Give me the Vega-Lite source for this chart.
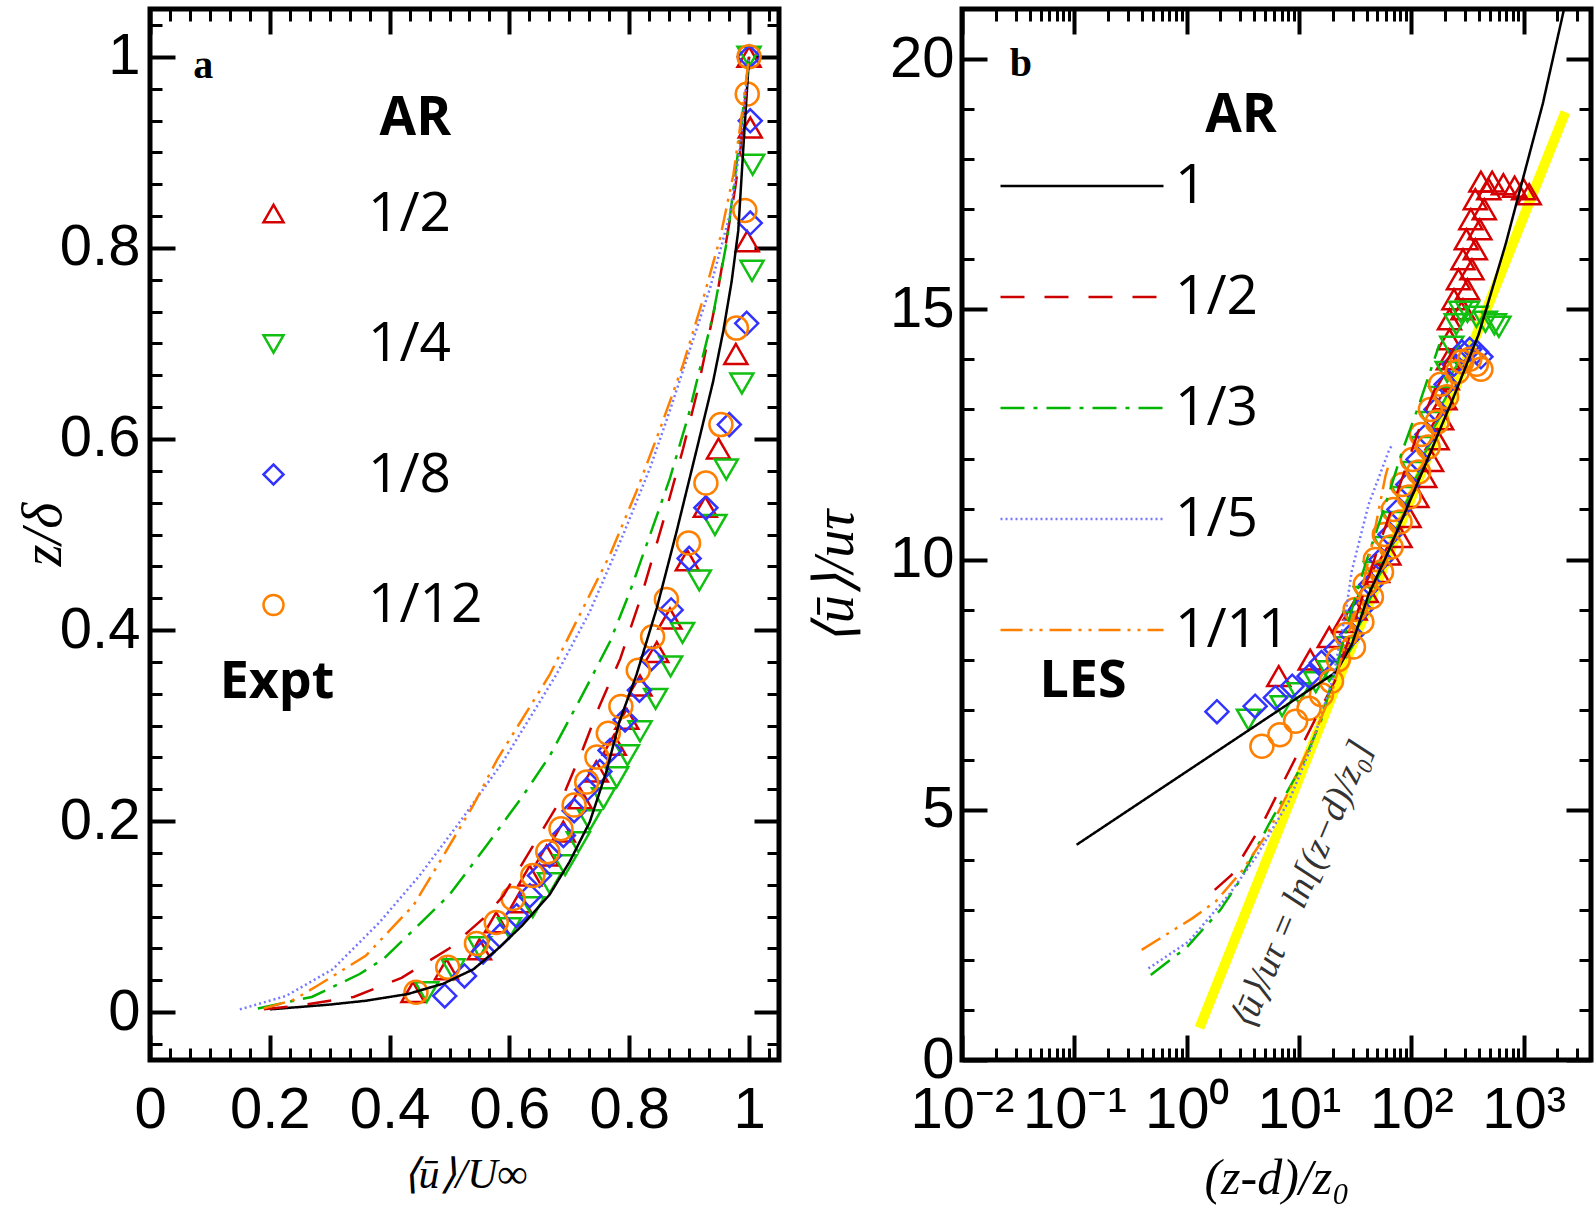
{
"$schema":"https://vega.github.io/schema/vega-lite/v6.json",
"background":"white",
"padding":{"left":12,"top":4,"right":0,"bottom":0},
"bounds":"flush",
"spacing":183,
"config":{"view":{"stroke":"black","strokeWidth":5},"axis":{"grid":false,"domain":false,"tickColor":"black","labelColor":"black","titleColor":"black","titleFontWeight":"normal","labelFlush":false,"labelOverlap":false}},
"resolve":{"scale":{"color":"independent","shape":"independent","stroke":"independent","strokeDash":"independent","x":"independent","y":"independent"},"legend":{"color":"independent","shape":"independent","stroke":"independent","strokeDash":"independent"}},
"datasets":{
"lesA":[
{"AR":"1","u":0.20,"z":0.003},{"AR":"1","u":0.30,"z":0.008},{"AR":"1","u":0.36,"z":0.012},{"AR":"1","u":0.43,"z":0.019},{"AR":"1","u":0.49,"z":0.030},{"AR":"1","u":0.54,"z":0.045},{"AR":"1","u":0.58,"z":0.066},{"AR":"1","u":0.62,"z":0.09},{"AR":"1","u":0.667,"z":0.123},{"AR":"1","u":0.70,"z":0.157},{"AR":"1","u":0.734,"z":0.199},{"AR":"1","u":0.762,"z":0.252},{"AR":"1","u":0.784,"z":0.305},{"AR":"1","u":0.812,"z":0.353},{"AR":"1","u":0.846,"z":0.423},{"AR":"1","u":0.879,"z":0.503},{"AR":"1","u":0.913,"z":0.59},{"AR":"1","u":0.94,"z":0.66},{"AR":"1","u":0.957,"z":0.713},{"AR":"1","u":0.971,"z":0.765},{"AR":"1","u":0.982,"z":0.818},{"AR":"1","u":0.99,"z":0.9},{"AR":"1","u":0.997,"z":0.97},{"AR":"1","u":1.0,"z":1.0},
{"AR":"1/2","u":0.19,"z":0.003},{"AR":"1/2","u":0.25,"z":0.007},{"AR":"1/2","u":0.34,"z":0.016},{"AR":"1/2","u":0.42,"z":0.036},{"AR":"1/2","u":0.50,"z":0.067},{"AR":"1/2","u":0.556,"z":0.098},{"AR":"1/2","u":0.59,"z":0.122},{"AR":"1/2","u":0.623,"z":0.157},{"AR":"1/2","u":0.69,"z":0.227},{"AR":"1/2","u":0.723,"z":0.276},{"AR":"1/2","u":0.75,"z":0.32},{"AR":"1/2","u":0.785,"z":0.37},{"AR":"1/2","u":0.82,"z":0.435},{"AR":"1/2","u":0.855,"z":0.51},{"AR":"1/2","u":0.89,"z":0.59},{"AR":"1/2","u":0.913,"z":0.648},{"AR":"1/2","u":0.946,"z":0.748},{"AR":"1/2","u":0.963,"z":0.811},{"AR":"1/2","u":0.977,"z":0.863},{"AR":"1/2","u":0.987,"z":0.91},{"AR":"1/2","u":1.0,"z":1.0},
{"AR":"1/3","u":0.18,"z":0.004},{"AR":"1/3","u":0.27,"z":0.016},{"AR":"1/3","u":0.35,"z":0.04},{"AR":"1/3","u":0.39,"z":0.056},{"AR":"1/3","u":0.43,"z":0.08},{"AR":"1/3","u":0.50,"z":0.123},{"AR":"1/3","u":0.565,"z":0.177},{"AR":"1/3","u":0.623,"z":0.227},{"AR":"1/3","u":0.667,"z":0.268},{"AR":"1/3","u":0.72,"z":0.33},{"AR":"1/3","u":0.768,"z":0.388},{"AR":"1/3","u":0.801,"z":0.44},{"AR":"1/3","u":0.835,"z":0.50},{"AR":"1/3","u":0.868,"z":0.559},{"AR":"1/3","u":0.899,"z":0.625},{"AR":"1/3","u":0.94,"z":0.73},{"AR":"1/3","u":0.963,"z":0.807},{"AR":"1/3","u":0.979,"z":0.887},{"AR":"1/3","u":0.993,"z":0.96},{"AR":"1/3","u":1.0,"z":1.0},
{"AR":"1/5","u":0.15,"z":0.003},{"AR":"1/5","u":0.227,"z":0.017},{"AR":"1/5","u":0.305,"z":0.045},{"AR":"1/5","u":0.383,"z":0.094},{"AR":"1/5","u":0.45,"z":0.143},{"AR":"1/5","u":0.517,"z":0.199},{"AR":"1/5","u":0.589,"z":0.262},{"AR":"1/5","u":0.678,"z":0.353},{"AR":"1/5","u":0.734,"z":0.419},{"AR":"1/5","u":0.79,"z":0.5},{"AR":"1/5","u":0.835,"z":0.57},{"AR":"1/5","u":0.868,"z":0.63},{"AR":"1/5","u":0.902,"z":0.695},{"AR":"1/5","u":0.935,"z":0.758},{"AR":"1/5","u":0.968,"z":0.835},{"AR":"1/5","u":0.985,"z":0.905},{"AR":"1/5","u":1.0,"z":1.0},
{"AR":"1/11","u":0.19,"z":0.004},{"AR":"1/11","u":0.24,"z":0.013},{"AR":"1/11","u":0.28,"z":0.028},{"AR":"1/11","u":0.36,"z":0.059},{"AR":"1/11","u":0.44,"z":0.112},{"AR":"1/11","u":0.49,"z":0.164},{"AR":"1/11","u":0.54,"z":0.217},{"AR":"1/11","u":0.58,"z":0.265},{"AR":"1/11","u":0.667,"z":0.353},{"AR":"1/11","u":0.723,"z":0.423},{"AR":"1/11","u":0.768,"z":0.479},{"AR":"1/11","u":0.812,"z":0.545},{"AR":"1/11","u":0.85,"z":0.608},{"AR":"1/11","u":0.89,"z":0.678},{"AR":"1/11","u":0.924,"z":0.748},{"AR":"1/11","u":0.952,"z":0.811},{"AR":"1/11","u":0.974,"z":0.877},{"AR":"1/11","u":0.988,"z":0.94},{"AR":"1/11","u":1.0,"z":1.0}
],
"exptA":[
{"AR":"1/2","u":0.439,"z":0.021},{"AR":"1/2","u":0.495,"z":0.045},{"AR":"1/2","u":0.550,"z":0.066},{"AR":"1/2","u":0.578,"z":0.094},{"AR":"1/2","u":0.617,"z":0.115},{"AR":"1/2","u":0.634,"z":0.143},{"AR":"1/2","u":0.662,"z":0.164},{"AR":"1/2","u":0.690,"z":0.189},{"AR":"1/2","u":0.718,"z":0.224},{"AR":"1/2","u":0.745,"z":0.252},{"AR":"1/2","u":0.775,"z":0.28},{"AR":"1/2","u":0.796,"z":0.307},{"AR":"1/2","u":0.818,"z":0.342},{"AR":"1/2","u":0.846,"z":0.377},{"AR":"1/2","u":0.868,"z":0.412},{"AR":"1/2","u":0.897,"z":0.473},{"AR":"1/2","u":0.927,"z":0.529},{"AR":"1/2","u":0.949,"z":0.590},{"AR":"1/2","u":0.978,"z":0.689},{"AR":"1/2","u":0.997,"z":0.807},{"AR":"1/2","u":1.002,"z":0.926},{"AR":"1/2","u":1.0,"z":1.0},
{"AR":"1/4","u":0.462,"z":0.021},{"AR":"1/4","u":0.506,"z":0.045},{"AR":"1/4","u":0.55,"z":0.068},{"AR":"1/4","u":0.60,"z":0.088},{"AR":"1/4","u":0.639,"z":0.110},{"AR":"1/4","u":0.667,"z":0.135},{"AR":"1/4","u":0.693,"z":0.154},{"AR":"1/4","u":0.715,"z":0.178},{"AR":"1/4","u":0.734,"z":0.201},{"AR":"1/4","u":0.757,"z":0.224},{"AR":"1/4","u":0.779,"z":0.246},{"AR":"1/4","u":0.797,"z":0.269},{"AR":"1/4","u":0.818,"z":0.294},{"AR":"1/4","u":0.844,"z":0.328},{"AR":"1/4","u":0.869,"z":0.362},{"AR":"1/4","u":0.889,"z":0.397},{"AR":"1/4","u":0.917,"z":0.452},{"AR":"1/4","u":0.943,"z":0.510},{"AR":"1/4","u":0.962,"z":0.568},{"AR":"1/4","u":0.988,"z":0.658},{"AR":"1/4","u":1.005,"z":0.776},{"AR":"1/4","u":1.006,"z":0.887},{"AR":"1/4","u":1.0,"z":1.0},
{"AR":"1/8","u":0.492,"z":0.017},{"AR":"1/8","u":0.525,"z":0.038},{"AR":"1/8","u":0.556,"z":0.063},{"AR":"1/8","u":0.584,"z":0.080},{"AR":"1/8","u":0.612,"z":0.101},{"AR":"1/8","u":0.634,"z":0.122},{"AR":"1/8","u":0.65,"z":0.143},{"AR":"1/8","u":0.667,"z":0.164},{"AR":"1/8","u":0.690,"z":0.185},{"AR":"1/8","u":0.708,"z":0.211},{"AR":"1/8","u":0.729,"z":0.233},{"AR":"1/8","u":0.751,"z":0.252},{"AR":"1/8","u":0.768,"z":0.274},{"AR":"1/8","u":0.793,"z":0.306},{"AR":"1/8","u":0.817,"z":0.337},{"AR":"1/8","u":0.837,"z":0.370},{"AR":"1/8","u":0.870,"z":0.421},{"AR":"1/8","u":0.900,"z":0.475},{"AR":"1/8","u":0.928,"z":0.528},{"AR":"1/8","u":0.967,"z":0.615},{"AR":"1/8","u":0.996,"z":0.721},{"AR":"1/8","u":1.002,"z":0.826},{"AR":"1/8","u":1.002,"z":0.933},{"AR":"1/8","u":1.0,"z":1.0},
{"AR":"1/12","u":0.444,"z":0.021},{"AR":"1/12","u":0.497,"z":0.047},{"AR":"1/12","u":0.545,"z":0.072},{"AR":"1/12","u":0.578,"z":0.094},{"AR":"1/12","u":0.606,"z":0.119},{"AR":"1/12","u":0.639,"z":0.143},{"AR":"1/12","u":0.664,"z":0.168},{"AR":"1/12","u":0.686,"z":0.192},{"AR":"1/12","u":0.708,"z":0.217},{"AR":"1/12","u":0.729,"z":0.241},{"AR":"1/12","u":0.746,"z":0.267},{"AR":"1/12","u":0.765,"z":0.292},{"AR":"1/12","u":0.786,"z":0.320},{"AR":"1/12","u":0.815,"z":0.358},{"AR":"1/12","u":0.839,"z":0.393},{"AR":"1/12","u":0.862,"z":0.432},{"AR":"1/12","u":0.899,"z":0.491},{"AR":"1/12","u":0.928,"z":0.554},{"AR":"1/12","u":0.953,"z":0.615},{"AR":"1/12","u":0.979,"z":0.716},{"AR":"1/12","u":0.993,"z":0.839},{"AR":"1/12","u":0.997,"z":0.961},{"AR":"1/12","u":1.0,"z":1.0}
],
"yellowB":[{"x":1.3,"u":0.64},{"x":2355,"u":18.94}],
"lesB":[
{"AR":"1","x":0.1047,"u":4.3},{"AR":"1","x":21.38,"u":7.75},{"AR":"1","x":29.51,"u":8.3},{"AR":"1","x":41.69,"u":9.3},{"AR":"1","x":58.88,"u":10.03},{"AR":"1","x":89.13,"u":10.97},{"AR":"1","x":133.7,"u":11.9},{"AR":"1","x":187.9,"u":12.7},{"AR":"1","x":230.7,"u":13.17},{"AR":"1","x":398.1,"u":14.5},{"AR":"1","x":691.8,"u":16.3},{"AR":"1","x":1047,"u":17.83},{"AR":"1","x":1479,"u":19.1},{"AR":"1","x":2239,"u":20.9},{"AR":"1","x":2512,"u":21.4},
{"AR":"1/2","x":1.778,"u":3.4},{"AR":"1/2","x":2.512,"u":3.7},{"AR":"1/2","x":4.677,"u":4.7},{"AR":"1/2","x":8.128,"u":5.77},{"AR":"1/2","x":14.13,"u":6.83},{"AR":"1/2","x":20.89,"u":7.57},{"AR":"1/2","x":31.62,"u":8.8},{"AR":"1/2","x":50.12,"u":10.2},{"AR":"1/2","x":79.43,"u":11.5},{"AR":"1/2","x":125.9,"u":12.8},{"AR":"1/2","x":199.5,"u":13.9},{"AR":"1/2","x":251.2,"u":14.3},
{"AR":"1/3","x":0.479,"u":1.7},{"AR":"1/3","x":1.0,"u":2.25},{"AR":"1/3","x":2.0,"u":3.0},{"AR":"1/3","x":3.0,"u":3.6},{"AR":"1/3","x":5.37,"u":4.7},{"AR":"1/3","x":10.72,"u":5.9},{"AR":"1/3","x":15.85,"u":6.8},{"AR":"1/3","x":22.59,"u":8.03},{"AR":"1/3","x":29.51,"u":9.0},{"AR":"1/3","x":38.90,"u":9.9},{"AR":"1/3","x":58.88,"u":11.1},{"AR":"1/3","x":83.18,"u":12.17},{"AR":"1/3","x":117.5,"u":13.1},{"AR":"1/3","x":154.9,"u":13.9},{"AR":"1/3","x":177.8,"u":14.3},
{"AR":"1/5","x":0.457,"u":1.83},{"AR":"1/5","x":1.047,"u":2.37},{"AR":"1/5","x":2.371,"u":3.3},{"AR":"1/5","x":4.074,"u":4.03},{"AR":"1/5","x":8.128,"u":5.17},{"AR":"1/5","x":12.59,"u":6.2},{"AR":"1/5","x":19.95,"u":7.6},{"AR":"1/5","x":26.30,"u":9.0},{"AR":"1/5","x":29.51,"u":9.77},{"AR":"1/5","x":41.69,"u":11.1},{"AR":"1/5","x":63.10,"u":12.17},{"AR":"1/5","x":67.61,"u":12.3},
{"AR":"1/11","x":0.398,"u":2.2},{"AR":"1/11","x":1.122,"u":2.83},{"AR":"1/11","x":1.820,"u":3.17},{"AR":"1/11","x":3.090,"u":3.77},{"AR":"1/11","x":5.370,"u":4.57},{"AR":"1/11","x":8.128,"u":5.37},{"AR":"1/11","x":12.59,"u":6.3},{"AR":"1/11","x":19.95,"u":7.4},{"AR":"1/11","x":28.18,"u":8.6},{"AR":"1/11","x":33.88,"u":9.1},{"AR":"1/11","x":44.67,"u":10.3},{"AR":"1/11","x":58.88,"u":11.67},{"AR":"1/11","x":63.10,"u":11.9}
],
"exptB":[
{"AR":"1/2","x":6.607,"u":7.67},{"AR":"1/2","x":12.59,"u":8.0},{"AR":"1/2","x":18.62,"u":8.45},{"AR":"1/2","x":25.12,"u":8.75},{"AR":"1/2","x":31.62,"u":9.0},{"AR":"1/2","x":39.81,"u":9.35},{"AR":"1/2","x":50.12,"u":9.75},{"AR":"1/2","x":63.10,"u":10.1},{"AR":"1/2","x":79.43,"u":10.45},{"AR":"1/2","x":95.50,"u":10.85},{"AR":"1/2","x":112.2,"u":11.25},{"AR":"1/2","x":131.8,"u":11.65},{"AR":"1/2","x":151.4,"u":11.97},{"AR":"1/2","x":169.8,"u":12.4},{"AR":"1/2","x":186.2,"u":12.8},{"AR":"1/2","x":199.5,"u":13.2},{"AR":"1/2","x":208.9,"u":13.6},{"AR":"1/2","x":213.8,"u":14.0},{"AR":"1/2","x":218.8,"u":14.4},{"AR":"1/2","x":218.8,"u":14.8},{"AR":"1/2","x":288.4,"u":15.0},{"AR":"1/2","x":239.9,"u":15.2},{"AR":"1/2","x":316.3,"u":15.4},{"AR":"1/2","x":263.0,"u":15.6},{"AR":"1/2","x":346.8,"u":15.8},{"AR":"1/2","x":288.4,"u":16.0},{"AR":"1/2","x":371.6,"u":16.2},{"AR":"1/2","x":309.1,"u":16.4},{"AR":"1/2","x":407.4,"u":16.6},{"AR":"1/2","x":338.9,"u":16.8},{"AR":"1/2","x":446.8,"u":17.0},{"AR":"1/2","x":371.6,"u":17.2},{"AR":"1/2","x":489.8,"u":17.4},{"AR":"1/2","x":416.9,"u":17.55},{"AR":"1/2","x":524.8,"u":17.55},{"AR":"1/2","x":660.7,"u":17.5},{"AR":"1/2","x":831.8,"u":17.45},{"AR":"1/2","x":1000,"u":17.4},{"AR":"1/2","x":1122,"u":17.3},
{"AR":"1/4","x":3.548,"u":6.8},{"AR":"1/4","x":7.079,"u":7.07},{"AR":"1/4","x":10,"u":7.33},{"AR":"1/4","x":14.13,"u":7.55},{"AR":"1/4","x":18.62,"u":7.77},{"AR":"1/4","x":26.30,"u":8.25},{"AR":"1/4","x":31.62,"u":8.75},{"AR":"1/4","x":38.90,"u":9.25},{"AR":"1/4","x":47.86,"u":9.75},{"AR":"1/4","x":58.88,"u":10.25},{"AR":"1/4","x":70.79,"u":10.75},{"AR":"1/4","x":85.11,"u":11.25},{"AR":"1/4","x":104.7,"u":11.75},{"AR":"1/4","x":125.9,"u":12.25},{"AR":"1/4","x":151.4,"u":12.75},{"AR":"1/4","x":182.0,"u":13.25},{"AR":"1/4","x":208.9,"u":13.75},{"AR":"1/4","x":229.1,"u":14.25},{"AR":"1/4","x":251.2,"u":14.7},{"AR":"1/4","x":275.4,"u":14.95},{"AR":"1/4","x":316.2,"u":14.95},{"AR":"1/4","x":380.2,"u":14.85},{"AR":"1/4","x":457.1,"u":14.75},{"AR":"1/4","x":549.5,"u":14.7},{"AR":"1/4","x":602.6,"u":14.65},
{"AR":"1/8","x":1.862,"u":6.96},{"AR":"1/8","x":4.074,"u":7.07},{"AR":"1/8","x":6.166,"u":7.24},{"AR":"1/8","x":8.710,"u":7.47},{"AR":"1/8","x":12.30,"u":7.67},{"AR":"1/8","x":15.85,"u":7.94},{"AR":"1/8","x":21.38,"u":8.2},{"AR":"1/8","x":29.51,"u":8.5},{"AR":"1/8","x":35.48,"u":9.0},{"AR":"1/8","x":43.65,"u":9.5},{"AR":"1/8","x":53.70,"u":10.0},{"AR":"1/8","x":64.57,"u":10.5},{"AR":"1/8","x":77.62,"u":11.0},{"AR":"1/8","x":93.33,"u":11.5},{"AR":"1/8","x":114.8,"u":12.0},{"AR":"1/8","x":138.0,"u":12.5},{"AR":"1/8","x":166.0,"u":13.0},{"AR":"1/8","x":204.2,"u":13.5},{"AR":"1/8","x":239.9,"u":13.9},{"AR":"1/8","x":281.8,"u":14.15},{"AR":"1/8","x":331.1,"u":14.2},{"AR":"1/8","x":380.2,"u":14.15},{"AR":"1/8","x":416.9,"u":14.05},
{"AR":"1/12","x":4.677,"u":6.27},{"AR":"1/12","x":6.761,"u":6.5},{"AR":"1/12","x":9.333,"u":6.77},{"AR":"1/12","x":12.30,"u":7.03},{"AR":"1/12","x":15.85,"u":7.3},{"AR":"1/12","x":19.50,"u":7.57},{"AR":"1/12","x":22.39,"u":8.0},{"AR":"1/12","x":30.55,"u":8.25},{"AR":"1/12","x":26.30,"u":8.5},{"AR":"1/12","x":36.31,"u":8.75},{"AR":"1/12","x":31.62,"u":9.0},{"AR":"1/12","x":44.16,"u":9.25},{"AR":"1/12","x":38.90,"u":9.5},{"AR":"1/12","x":54.33,"u":9.75},{"AR":"1/12","x":47.86,"u":10.0},{"AR":"1/12","x":66.07,"u":10.25},{"AR":"1/12","x":57.54,"u":10.5},{"AR":"1/12","x":79.43,"u":10.75},{"AR":"1/12","x":69.18,"u":11.0},{"AR":"1/12","x":95.50,"u":11.25},{"AR":"1/12","x":83.18,"u":11.5},{"AR":"1/12","x":116.1,"u":11.75},{"AR":"1/12","x":102.3,"u":12.0},{"AR":"1/12","x":141.3,"u":12.25},{"AR":"1/12","x":123.0,"u":12.5},{"AR":"1/12","x":169.8,"u":12.75},{"AR":"1/12","x":147.9,"u":13.0},{"AR":"1/12","x":206.5,"u":13.25},{"AR":"1/12","x":182.0,"u":13.5},{"AR":"1/12","x":257.0,"u":13.75},{"AR":"1/12","x":281.8,"u":13.95},{"AR":"1/12","x":331.1,"u":14.0},{"AR":"1/12","x":380.2,"u":13.9},{"AR":"1/12","x":416.9,"u":13.8}
]
},
"hconcat":[
{
"width":629,"height":1051,
"resolve":{"axis":{"x":"independent","y":"independent"}},
"layer":[
{"data":{"name":"exptA"},
 "mark":{"type":"point","filled":false,"size":529,"strokeWidth":2.5,"opacity":1},
 "encoding":{
  "x":{"field":"u","type":"quantitative","scale":{"domain":[0,1.05],"nice":false,"zero":false},
       "axis":{"orient":"top","offset":-1051,"values":[0,0.2,0.4,0.6,0.8,1],"labels":false,"tickSize":25,"tickWidth":4,"title":null}},
  "y":{"field":"z","type":"quantitative","scale":{"domain":[-0.05,1.05],"nice":false,"zero":false},
       "axis":{"orient":"right","offset":-629,"values":[0,0.2,0.4,0.6,0.8,1],"labels":false,"tickSize":25,"tickWidth":4,"title":null}},
  "color":{"field":"AR","type":"nominal","scale":{"domain":["1/2","1/4","1/8","1/12"],"range":["#d60000","#11c011","#3333ff","#ff8000"]},
           "legend":{"title":null,"orient":"none","legendX":96,"legendY":177,"symbolSize":400,"symbolStrokeWidth":2.5,"labelFont":"Open Sans","labelFontSize":55,"labelColor":"black","labelOffset":67,"rowPadding":74.5,"padding":0,"labelLimit":0}},
  "shape":{"field":"AR","type":"nominal","scale":{"domain":["1/2","1/4","1/8","1/12"],"range":["triangle-up","triangle-down","diamond","circle"]},
           "legend":{"title":null,"orient":"none","legendX":96,"legendY":177,"symbolSize":400,"symbolStrokeWidth":2.5,"labelFont":"Open Sans","labelFontSize":55,"labelColor":"black","labelOffset":67,"rowPadding":74.5,"padding":0,"labelLimit":0}}
 }},
{"data":{"name":"lesA"},
 "mark":{"type":"line","strokeWidth":2.5},
 "encoding":{
  "x":{"field":"u","type":"quantitative",
       "axis":{"orient":"bottom","values":[0,0.2,0.4,0.6,0.8,1],"format":"~g","ticks":false,"labelFont":"Liberation Sans","labelFontSize":58,"labelPadding":21,"title":"⟨ū⟩/U∞","titleFont":"Liberation Serif","titleFontStyle":"italic","titleFontSize":42,"titleBaseline":"middle","titleY":114}},
  "y":{"field":"z","type":"quantitative",
       "axis":{"orient":"left","values":[0,0.2,0.4,0.6,0.8,1],"format":"~g","ticks":false,"labelFont":"Liberation Sans","labelFontSize":58,"labelPadding":10,"title":"z/δ","titleFont":"Liberation Serif","titleFontStyle":"italic","titleFontSize":56,"titleBaseline":"middle","titleX":-107,"titleY":525}},
  "stroke":{"field":"AR","type":"nominal","scale":{"domain":["1","1/2","1/3","1/5","1/11"],"range":["#000000","#cc0000","#00b400","#7777ff","#ff8000"]},"legend":null},
  "strokeDash":{"field":"AR","type":"nominal","scale":{"domain":["1","1/2","1/3","1/5","1/11"],"range":[[1,0],[24,20],[24,9,4,9],[2,3],[22,7,3,7,3,7]]},"legend":null},
  "order":{"field":"z","type":"quantitative"}
 }},
{"data":{"values":[{"label":"a"}]},
 "mark":{"type":"text","font":"Liberation Serif","fontWeight":"bold","fontSize":40,"align":"center","baseline":"middle","color":"black"},
 "encoding":{"text":{"field":"label"},
  "x":{"datum":0.089,"type":"quantitative","axis":{"orient":"bottom","offset":-1051,"values":[0,0.2,0.4,0.6,0.8,1],"labels":false,"tickSize":25,"tickWidth":4,"title":null}},
  "y":{"datum":0.99,"type":"quantitative","axis":{"orient":"left","offset":-629,"values":[0,0.2,0.4,0.6,0.8,1],"labels":false,"tickSize":25,"tickWidth":4,"title":null}}}},
{"data":{"values":[{"label":"AR"}]},
 "mark":{"type":"text","font":"Open Sans","fontWeight":"bold","fontSize":53,"align":"center","baseline":"middle","color":"black"},
 "encoding":{"text":{"field":"label"},
  "x":{"datum":0.443,"type":"quantitative","axis":{"orient":"bottom","offset":-1051,"values":[0.0333,0.0667,0.1,0.1333,0.1667,0.2333,0.2667,0.3,0.3333,0.3667,0.4333,0.4667,0.5,0.5333,0.5667,0.6333,0.6667,0.7,0.7333,0.7667,0.8333,0.8667,0.9,0.9333,0.9667,1.0333],"labels":false,"tickSize":12,"tickWidth":3,"title":null}},
  "y":{"datum":0.935,"type":"quantitative","axis":{"orient":"left","offset":-629,"values":[-0.0333,0.0333,0.0667,0.1,0.1333,0.1667,0.2333,0.2667,0.3,0.3333,0.3667,0.4333,0.4667,0.5,0.5333,0.5667,0.6333,0.6667,0.7,0.7333,0.7667,0.8333,0.8667,0.9,0.9333,0.9667,1.0333],"labels":false,"tickSize":12,"tickWidth":3,"title":null}}}},
{"data":{"values":[{"label":"Expt"}]},
 "mark":{"type":"text","font":"Open Sans","fontWeight":"bold","fontSize":52,"align":"center","baseline":"middle","color":"black"},
 "encoding":{"text":{"field":"label"},
  "x":{"datum":0.212,"type":"quantitative","axis":{"orient":"top","offset":-1051,"values":[0.0333,0.0667,0.1,0.1333,0.1667,0.2333,0.2667,0.3,0.3333,0.3667,0.4333,0.4667,0.5,0.5333,0.5667,0.6333,0.6667,0.7,0.7333,0.7667,0.8333,0.8667,0.9,0.9333,0.9667,1.0333],"labels":false,"tickSize":12,"tickWidth":3,"title":null}},
  "y":{"datum":0.346,"type":"quantitative","axis":{"orient":"right","offset":-629,"values":[-0.0333,0.0333,0.0667,0.1,0.1333,0.1667,0.2333,0.2667,0.3,0.3333,0.3667,0.4333,0.4667,0.5,0.5333,0.5667,0.6333,0.6667,0.7,0.7333,0.7667,0.8333,0.8667,0.9,0.9333,0.9667,1.0333],"labels":false,"tickSize":12,"tickWidth":3,"title":null}}}}
]
},
{
"width":629,"height":1051,
"resolve":{"axis":{"x":"independent","y":"independent"}},
"layer":[
{"data":{"name":"yellowB"},
 "mark":{"type":"line","strokeWidth":10,"color":"#ffff00"},
 "encoding":{
  "x":{"field":"x","type":"quantitative","scale":{"type":"log","domain":[0.01,3981],"nice":false},
       "axis":{"orient":"bottom","values":[0.01,0.1,1,10,100,1000],"labelExpr":"datum.value < 0.05 ? '10⁻²' : datum.value < 0.5 ? '10⁻¹' : datum.value < 5 ? '10⁰' : datum.value < 50 ? '10¹' : datum.value < 500 ? '10²' : '10³'","ticks":false,"labelFont":"Liberation Sans","labelFontSize":58,"labelPadding":21,"title":"(z-d)/z₀","titleFont":"Liberation Serif","titleFontStyle":"italic","titleFontSize":50,"titleBaseline":"middle","titleY":118}},
  "y":{"field":"u","type":"quantitative","scale":{"domain":[0,21],"nice":false,"zero":false},
       "axis":{"orient":"left","values":[0,5,10,15,20],"ticks":false,"labelFont":"Liberation Sans","labelFontSize":58,"labelPadding":8,"title":"⟨ū⟩/uτ","titleFont":"Liberation Serif","titleFontStyle":"italic","titleFontSize":56,"titleBaseline":"middle","titleX":-127,"titleY":568}}
 }},
{"data":{"name":"exptB"},
 "mark":{"type":"point","filled":false,"size":529,"strokeWidth":2.5,"opacity":1},
 "encoding":{
  "x":{"field":"x","type":"quantitative","axis":{"orient":"top","offset":-1051,"values":[0.01,0.1,1,10,100,1000],"labels":false,"tickSize":25,"tickWidth":4,"title":null}},
  "y":{"field":"u","type":"quantitative","axis":{"orient":"right","offset":-629,"values":[0,5,10,15,20],"labels":false,"tickSize":25,"tickWidth":4,"title":null}},
  "stroke":{"field":"AR","type":"nominal","scale":{"domain":["1/2","1/4","1/8","1/12"],"range":["#d60000","#11c011","#3333ff","#ff8000"]},"legend":null},
  "shape":{"field":"AR","type":"nominal","scale":{"domain":["1/2","1/4","1/8","1/12"],"range":["triangle-up","triangle-down","diamond","circle"]},"legend":null}
 }},
{"data":{"name":"lesB"},
 "mark":{"type":"line","strokeWidth":2.5,"clip":true},
 "encoding":{
  "x":{"field":"x","type":"quantitative","axis":{"orient":"top","offset":-1051,"values":[0.02,0.03,0.04,0.05,0.06,0.07,0.08,0.09,0.2,0.3,0.4,0.5,0.6,0.7,0.8,0.9,2,3,4,5,6,7,8,9,20,30,40,50,60,70,80,90,200,300,400,500,600,700,800,900,2000,3000],"labels":false,"tickSize":12,"tickWidth":3,"title":null}},
  "y":{"field":"u","type":"quantitative","axis":{"orient":"right","offset":-629,"values":[1,2,3,4,6,7,8,9,11,12,13,14,16,17,18,19],"labels":false,"tickSize":12,"tickWidth":3,"title":null}},
  "color":{"field":"AR","type":"nominal","scale":{"domain":["1","1/2","1/3","1/5","1/11"],"range":["#000000","#cc0000","#00b400","#7777ff","#ff8000"]},
           "legend":{"title":null,"orient":"none","legendX":37,"legendY":94,"symbolType":"stroke","symbolSize":26569,"symbolStrokeWidth":2.5,"labelFont":"Open Sans","labelFontSize":55,"labelColor":"black","labelOffset":10,"rowPadding":0,"padding":0,"labelLimit":0}},
  "strokeDash":{"field":"AR","type":"nominal","scale":{"domain":["1","1/2","1/3","1/5","1/11"],"range":[[1,0],[24,20],[24,9,4,9],[2,3],[22,7,3,7,3,7]]},
           "legend":{"title":null,"orient":"none","legendX":37,"legendY":94,"symbolType":"stroke","symbolSize":26569,"symbolStrokeWidth":2.5,"labelFont":"Open Sans","labelFontSize":55,"labelColor":"black","labelOffset":10,"rowPadding":0,"padding":0,"labelLimit":0}}
 }},
{"data":{"values":[{"label":"b"}]},
 "mark":{"type":"text","font":"Liberation Serif","fontWeight":"bold","fontSize":40,"align":"center","baseline":"middle","color":"black"},
 "encoding":{"text":{"field":"label"},
  "x":{"datum":0.0335,"type":"quantitative","axis":{"orient":"bottom","offset":-1051,"values":[0.01,0.1,1,10,100,1000],"labels":false,"tickSize":25,"tickWidth":4,"title":null}},
  "y":{"datum":19.9,"type":"quantitative","axis":{"orient":"left","offset":-629,"values":[0,5,10,15,20],"labels":false,"tickSize":25,"tickWidth":4,"title":null}}}},
{"data":{"values":[{"label":"AR"}]},
 "mark":{"type":"text","font":"Open Sans","fontWeight":"bold","fontSize":53,"align":"center","baseline":"middle","color":"black"},
 "encoding":{"text":{"field":"label"},
  "x":{"datum":3.05,"type":"quantitative","axis":{"orient":"bottom","offset":-1051,"values":[0.02,0.03,0.04,0.05,0.06,0.07,0.08,0.09,0.2,0.3,0.4,0.5,0.6,0.7,0.8,0.9,2,3,4,5,6,7,8,9,20,30,40,50,60,70,80,90,200,300,400,500,600,700,800,900,2000,3000],"labels":false,"tickSize":12,"tickWidth":3,"title":null}},
  "y":{"datum":18.86,"type":"quantitative","axis":{"orient":"left","offset":-629,"values":[1,2,3,4,6,7,8,9,11,12,13,14,16,17,18,19],"labels":false,"tickSize":12,"tickWidth":3,"title":null}}}},
{"data":{"values":[{"label":"LES"}]},
 "mark":{"type":"text","font":"Open Sans","fontWeight":"bold","fontSize":52,"align":"center","baseline":"middle","color":"black"},
 "encoding":{"text":{"field":"label"},
  "x":{"datum":0.1195,"type":"quantitative","axis":null},
  "y":{"datum":7.57,"type":"quantitative","axis":null}}},
{"data":{"values":[{"label":"⟨ū⟩/uτ = ln[(z−d)/z₀]"}]},
 "mark":{"type":"text","font":"Liberation Serif","fontStyle":"italic","fontSize":37,"align":"center","baseline":"middle","angle":293,"color":"#333333"},
 "encoding":{"text":{"field":"label"},
  "x":{"datum":10.7,"type":"quantitative","axis":null},
  "y":{"datum":3.5,"type":"quantitative","axis":null}}}
]
}
]
}
